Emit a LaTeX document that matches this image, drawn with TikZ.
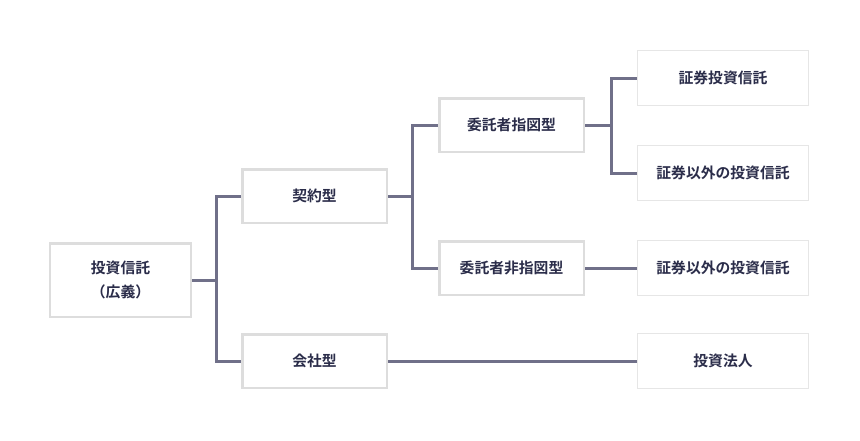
\documentclass[tikz,border=0pt]{standalone}
\usepackage{fontspec}
\setmainfont{Noto Sans CJK JP}[BoldFont={* Bold}]
\definecolor{boxline}{HTML}{DDDDDD}
\definecolor{boxthin}{HTML}{E6E6E6}
\definecolor{linkline}{HTML}{707089}
\definecolor{labeltext}{HTML}{2B2D4A}
\tikzset{
  lbox/.style={draw=boxline, line width=2.5pt, fill=white, align=center,
    text=labeltext, font=\fontsize{14.8}{24}\selectfont\bfseries,
    minimum width=144.5pt, minimum height=53.5pt, inner sep=0pt},
  rbox/.style={draw=boxthin, line width=1.2pt, fill=white, align=center,
    text=labeltext, font=\fontsize{14.8}{24}\selectfont\bfseries,
    minimum width=171pt, minimum height=55pt, inner sep=0pt},
  link/.style={draw=linkline, line width=3pt}
}
\begin{document}
\begin{tikzpicture}[x=1pt,y=-1pt]
  \useasboundingbox[fill=white] (0,0) rectangle (860,440);
  \node[lbox, minimum width=141pt, minimum height=73.5pt] (root) at (120.5,280) {投資信託\\（広義）};
  \node[lbox] (keiyaku) at (314.5,196) {契約型};
  \node[lbox] (kaisha) at (314.5,361) {会社型};
  \node[lbox] (shizu) at (511.5,125) {委託者指図型};
  \node[lbox] (hishizu) at (511.5,268) {委託者非指図型};
  \node[rbox] (shoken) at (723,78) {証券投資信託};
  \node[rbox] (igai1) at (723,173) {証券以外の投資信託};
  \node[rbox] (igai2) at (723,268) {証券以外の投資信託};
  \node[rbox] (hojin) at (723,361) {投資法人};
  % branch points
  \coordinate (b1) at (216,280);
  \coordinate (b2) at (412,196);
  \coordinate (b3) at (611,125);
  \begin{scope}[link]
    \draw (root.east) -- (b1);
    \draw (b1) |- (keiyaku.west);
    \draw (b1) |- (kaisha.west);
    \draw (keiyaku.east) -- (b2);
    \draw (b2) |- (shizu.west);
    \draw (b2) |- (hishizu.west);
    \draw (shizu.east) -- (b3);
    \draw (b3) |- (shoken.west);
    \draw (b3) |- (igai1.west);
    \draw (hishizu.east) -- (igai2.west);
    \draw (kaisha.east) -- (hojin.west);
  \end{scope}
\end{tikzpicture}
\end{document}
